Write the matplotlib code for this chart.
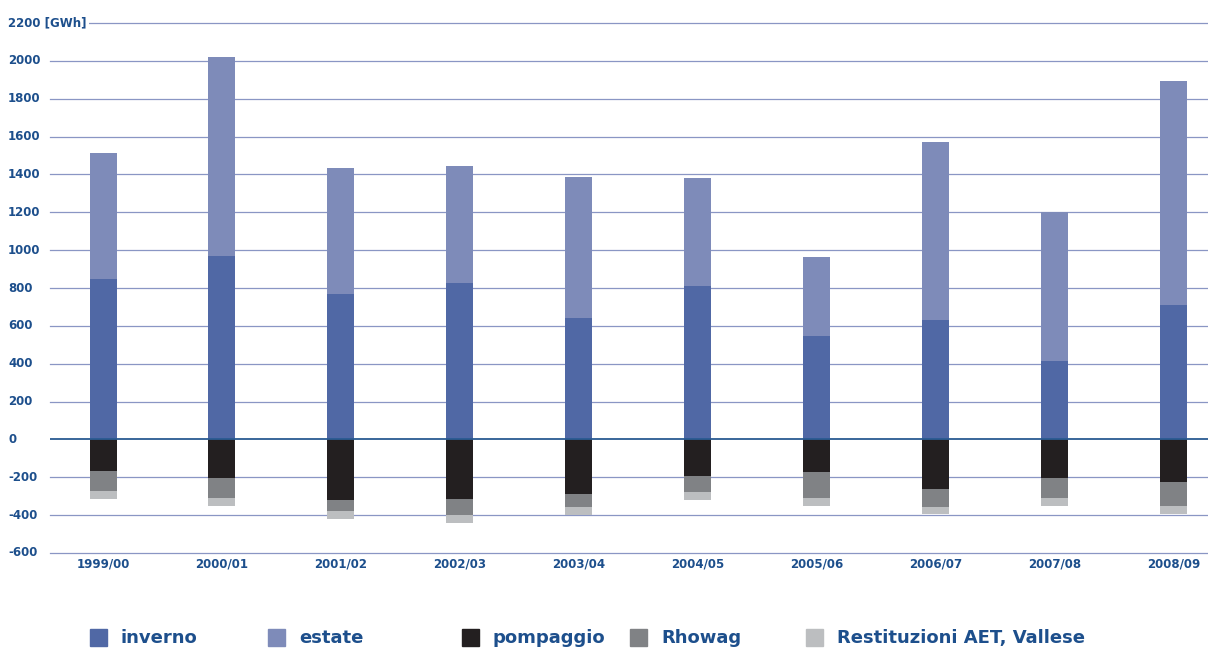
import numpy as np
import matplotlib.pyplot as plt
from matplotlib.patches import Rectangle

# data (GWh)
anni = ['1999/00', '2000/01', '2001/02', '2002/03', '2003/04',
        '2004/05', '2005/06', '2006/07', '2007/08', '2008/09']
inverno = [845, 967, 766, 824, 639, 808, 544, 629, 412, 708]
totale = [1515, 2018, 1432, 1442, 1389, 1379, 962, 1569, 1204, 1891]
estate = [t - i for t, i in zip(totale, inverno)]
pompaggio = [-167, -203, -322, -317, -289, -192, -174, -264, -203, -227]
rhowag = [-103, -109, -58, -81, -70, -88, -138, -92, -105, -127]
restituzioni = [-45, -40, -43, -44, -41, -40, -40, -38, -44, -42]
yticks = list(range(-600, 2201, 200))

c_inv = '#5068a5'
c_est = '#7e8bb9'
c_pom = '#231f20'
c_rho = '#808285'
c_res = '#bcbec0'
c_txt = '#1d4f8c'
c_grid = '#8a96c4'

fig = plt.figure(figsize=(12.08, 6.55), dpi=100)
ax = fig.add_axes([50/1208, 1-553/655, 1158/1208, 530/655])

x = np.arange(len(anni))
w = 0.227
ax.bar(x, inverno, w, color=c_inv, zorder=3)
ax.bar(x, estate, w, bottom=inverno, color=c_est, zorder=3)
ax.bar(x, pompaggio, w, color=c_pom, zorder=3)
ax.bar(x, rhowag, w, bottom=pompaggio, color=c_rho, zorder=3)
bot2 = [p + r for p, r in zip(pompaggio, rhowag)]
ax.bar(x, restituzioni, w, bottom=bot2, color=c_res, zorder=3)

ax.set_xlim(-0.446, 9.29)
ax.set_ylim(-600, 2200)
for s in ax.spines.values():
    s.set_visible(False)
ax.set_yticks([])
ax.set_xticks([])

for v in yticks:
    if v == 0:
        ax.axhline(v, color='#2a5a92', lw=1.3, zorder=4)
    else:
        ax.axhline(v, color=c_grid, lw=0.9, zorder=1, clip_on=False)
    lab = '%d' % v
    if v == 2200:
        lab = '2200 [GWh]'
    ax.text(-42/1158, v, lab, transform=ax.get_yaxis_transform(),
            ha='left', va='center', fontsize=8.5, fontweight='bold', color=c_txt,
            bbox=dict(facecolor='white', edgecolor='none', pad=1.5), zorder=5,
            clip_on=False)

for xi, a in zip(x, anni):
    ax.text(xi, -660, a, ha='center', va='center', fontsize=8.5,
            fontweight='bold', color=c_txt, clip_on=False)

# legend at bottom
leg = [('inverno', c_inv, 90), ('estate', c_est, 268), ('pompaggio', c_pom, 462),
       ('Rhowag', c_rho, 630), ('Restituzioni AET, Vallese', c_res, 806)]
for nome, col, px in leg:
    fig.patches.append(Rectangle((px/1208, 1-646/655), 17/1208, 17/655,
                                 transform=fig.transFigure, color=col))
    fig.text((px + 31)/1208, 1-638/655, nome, ha='left', va='center',
             fontsize=13, fontweight='bold', color=c_txt)

fig.savefig('out.png', dpi=100)
